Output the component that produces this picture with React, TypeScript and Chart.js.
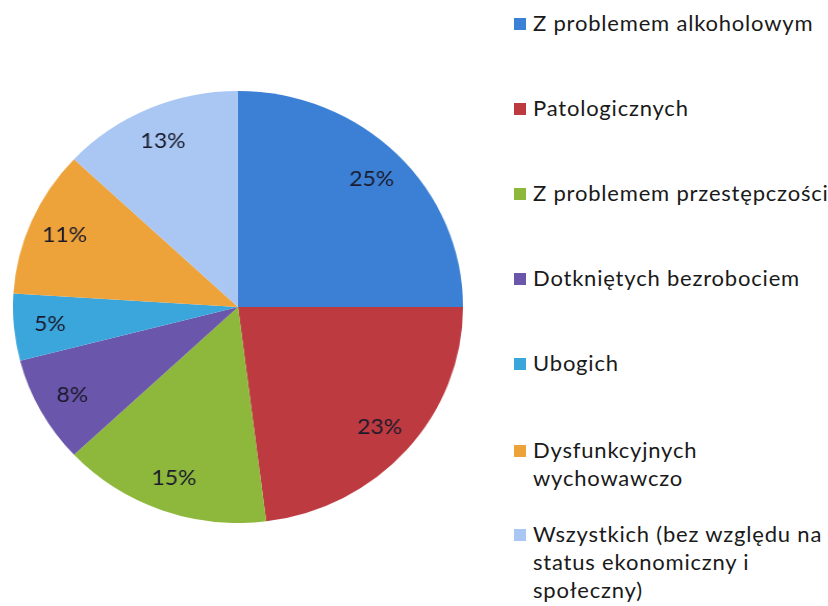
import React, { useEffect, useRef } from "react";
import { Chart, registerables } from "chart.js";

Chart.register(...registerables);

const categories = [
  "Z problemem alkoholowym",
  "Patologicznych",
  "Z problemem przestępczości",
  "Dotkniętych bezrobociem",
  "Ubogich",
  "Dysfunkcyjnych wychowawczo",
  "Wszystkich (bez względu na status ekonomiczny i społeczny)",
];
const legendLines = [
  ["Z problemem alkoholowym"],
  ["Patologicznych"],
  ["Z problemem przestępczości"],
  ["Dotkniętych bezrobociem"],
  ["Ubogich"],
  ["Dysfunkcyjnych", "wychowawczo"],
  ["Wszystkich (bez względu na", "status ekonomiczny i", "społeczny)"],
];
const values = [25, 23, 15, 8, 5, 11, 13];
const colors = ["#3b80d4", "#bd3a40", "#8db83c", "#6a56ab", "#3aa6dc", "#eda23a", "#a9c7f2"];

// layout (pixel positions of legend baselines)
const legendBaselines = [32, 117, 202, 287, 372, 459, 543];
const FONT = "Lato, 'Open Sans', sans-serif";

const labelPlugin = {
  id: "pctLabels",
  afterDatasetsDraw(chart: any) {
    const ctx = chart.ctx;
    const meta = chart.getDatasetMeta(0);
    const data = chart.data.datasets[0].data as number[];
    const total = data.reduce((a, b) => a + b, 0);
    ctx.save();
    ctx.font = `22px ${FONT}`;
    ctx.fillStyle = "#1a1a2c";
    ctx.textAlign = "center";
    ctx.textBaseline = "middle";
    meta.data.forEach((arc: any, i: number) => {
      const p = arc.getProps(["x", "y", "startAngle", "endAngle", "outerRadius"], true);
      const mid = (p.startAngle + p.endAngle) / 2;
      const r = p.outerRadius * 0.84;
      const txt = `${Math.round((data[i] / total) * 100)}%`;
      ctx.fillText(txt, p.x + Math.cos(mid) * r, p.y + Math.sin(mid) * r);
    });
    ctx.restore();
  },
};

function PieChart() {
  const ref = useRef<HTMLCanvasElement | null>(null);
  useEffect(() => {
    if (!ref.current) return;
    const chart = new Chart(ref.current, {
      type: "pie",
      data: {
        labels: categories,
        datasets: [
          {
            data: values,
            backgroundColor: colors,
            borderWidth: 0,
          },
        ],
      },
      options: {
        responsive: false,
        animation: false,
        devicePixelRatio: 1,
        layout: { padding: 0 },
        plugins: {
          legend: { display: false },
          tooltip: { enabled: false },
        },
      },
      plugins: [labelPlugin],
    });
    return () => chart.destroy();
  }, []);
  return (
    <canvas
      ref={ref}
      width={432}
      height={432}
      style={{ position: "absolute", left: 13, top: 91, width: 450, height: 432 }}
    />
  );
}

export default function App() {
  return (
    <div
      style={{
        position: "fixed",
        left: 0,
        top: 0,
        width: 828,
        height: 606,
        background: "#ffffff",
        overflow: "hidden",
        fontFamily: FONT,
      }}
    >
      <PieChart />
      {legendLines.map((lines, i) => (
        <div key={i}>
          <div
            style={{
              position: "absolute",
              left: 514,
              top: legendBaselines[i] - 14,
              width: 12,
              height: 12,
              background: colors[i],
            }}
          />
          {lines.map((ln, j) => (
            <div
              key={j}
              style={{
                position: "absolute",
                left: 533,
                top: legendBaselines[i] + j * 28 - 23,
                fontSize: 22,
                letterSpacing: "0.8px",
                lineHeight: "28px",
                color: "#1a1a1a",
                whiteSpace: "nowrap",
              }}
            >
              {ln}
            </div>
          ))}
        </div>
      ))}
    </div>
  );
}
